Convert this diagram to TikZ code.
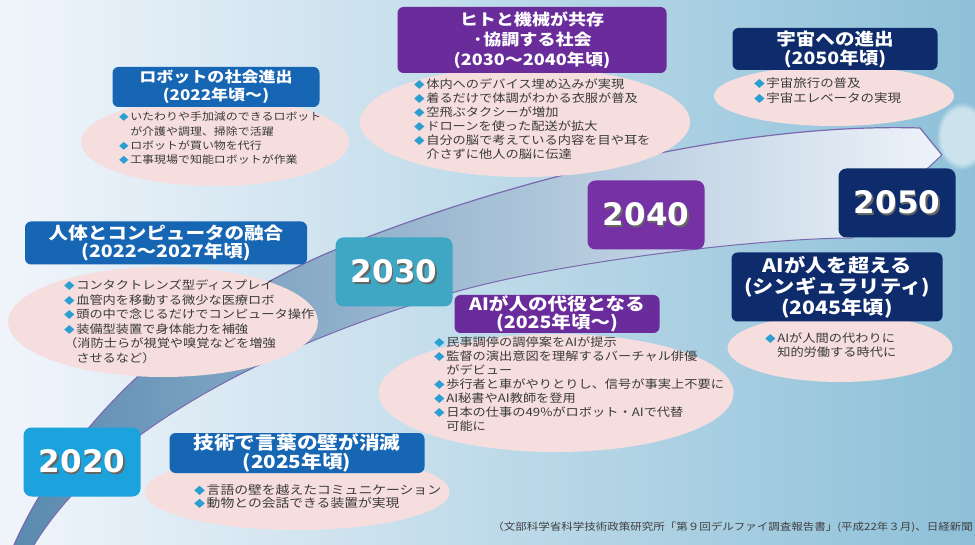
\documentclass[tikz,border=0pt]{standalone}
\usepackage{fontspec}
\usepackage{graphicx}
\usetikzlibrary{shapes.geometric, fadings}

\newfontfamily\jpfont{Noto Sans CJK JP}[FakeStretch=1.15]
\newfontfamily\yearfont{DejaVu Sans}

\definecolor{boxblue}{HTML}{1766B4}
\definecolor{boxpurple}{HTML}{6A2C9B}
\definecolor{boxnavy}{HTML}{0E2B6C}
\definecolor{yearcyan}{HTML}{1CA3DE}
\definecolor{yearteal}{HTML}{3FA6C3}
\definecolor{yearpurple}{HTML}{7631A5}
\definecolor{bubblepink}{HTML}{F6DEDF}
\definecolor{bulletblue}{HTML}{2C9FD2}
\definecolor{bodygray}{HTML}{3A3A3A}
\definecolor{bgleft}{HTML}{F1F5FB}
\definecolor{bgright}{HTML}{8DC0D8}
\definecolor{ribbondark}{HTML}{5A8AB0}
\definecolor{ribbonmid}{HTML}{BACDE4}
\definecolor{ribbonlight}{HTML}{EEF3FA}
\definecolor{ribbonedge}{HTML}{7A69AE}

\newcommand{\bul}{{\color{bulletblue}\scalebox{0.8}{◆}}\hspace{1.5pt}}
\newcommand{\cont}{\hphantom{\bul}}
\newcommand{\yearlabel}[1]{{\color{black!60}\rlap{\hspace{1.5pt}\raisebox{-1.5pt}{#1}}}#1}

\tikzset{
  titlebox/.style={fill=#1, rounded corners=6pt, text=white, align=center, inner sep=0pt},
  yearbox/.style={fill=#1, rounded corners=8pt, minimum width=117pt, minimum height=69pt,
    text=white, inner sep=0pt, font={\yearfont\bfseries\fontsize{31}{31}\selectfont}},
  bubble/.style={ellipse, fill=bubblepink, inner sep=0pt},
  bodytext/.style={anchor=north west, align=left, text=bodygray, inner sep=0pt},
}

\begin{document}
\begin{tikzpicture}[x=1pt, y=-1pt]
\useasboundingbox (0,0) rectangle (975,545);
% background and ribbon
\shade[left color=bgleft, right color=bgright] (0,0) rectangle (975,545);
\shade[left color=ribbondark, middle color=ribbonmid, right color=ribbonlight]
  (14,545) .. controls (60,440) and (170,320) .. (330,252) .. controls (480,190) and (720,122) .. (920,128)
  -- (942,155) -- (852,238) .. controls (760,238) and (560,262) .. (455,292)
  .. controls (300,335) and (110,420) .. (34,545) -- cycle;
\fill[white, opacity=0.55, path fading=circle with fuzzy edge 20 percent] (962,136) ellipse [x radius=26, y radius=34];
\draw[ribbonedge, line width=1.2pt]
  (14,545) .. controls (60,440) and (170,320) .. (330,252) .. controls (480,190) and (720,122) .. (920,128) -- (942,155);
\draw[ribbonedge, line width=1pt]
  (942,155) -- (852,238) .. controls (760,238) and (560,262) .. (455,292)
  .. controls (300,335) and (110,420) .. (34,545);

% ロボットの社会進出
\node[bubble, minimum width=268pt, minimum height=88pt] (robotbubble) at (215,142) {};
\node[titlebox=boxblue, minimum width=207pt, minimum height=40pt,
  font={\jpfont\bfseries\fontsize{14.8}{18}\selectfont}] (robottitle) at (216,87)
  {ロボットの社会進出\\(2022年頃～)};
\node[bodytext, font={\jpfont\fontsize{10.4}{14.3}\selectfont}] (robotlist) at (119,112)
  {\bul いたわりや手加減のできるロボット\\\cont が介護や調理、掃除で活躍\\\bul ロボットが買い物を代行\\\bul 工事現場で知能ロボットが作業};

% ヒトと機械が共存・協調する社会
\node[bubble, minimum width=330pt, minimum height=110pt] (humanbubble) at (525,122) {};
\node[titlebox=boxpurple, minimum width=269pt, minimum height=66pt,
  font={\jpfont\bfseries\fontsize{15.7}{20}\selectfont}] (humantitle) at (532,40)
  {ヒトと機械が共存\\·協調する社会\\(2030～2040年頃)};
\node[bodytext, font={\jpfont\fontsize{11.5}{14}\selectfont}] (humanlist) at (414,79)
  {\bul 体内へのデバイス埋め込みが実現\\\bul 着るだけで体調がわかる衣服が普及\\\bul 空飛ぶタクシーが増加\\\bul ドローンを使った配送が拡大\\\bul 自分の脳で考えている内容を目や耳を\\\cont 介さずに他人の脳に伝達};

% 宇宙への進出
\node[bubble, minimum width=240pt, minimum height=60pt] (spacebubble) at (834,96) {};
\node[titlebox=boxnavy, minimum width=205pt, minimum height=42pt,
  font={\jpfont\bfseries\fontsize{17}{19}\selectfont}] (spacetitle) at (835,49)
  {宇宙への進出\\(2050年頃)};
\node[bodytext, font={\jpfont\fontsize{11.7}{15}\selectfont}] (spacelist) at (754,77)
  {\bul 宇宙旅行の普及\\\bul 宇宙エレベータの実現};

% 人体とコンピュータの融合
\node[bubble, minimum width=310pt, minimum height=110pt] (bodybubble) at (163,322) {};
\node[titlebox=boxblue, minimum width=282pt, minimum height=43pt,
  font={\jpfont\bfseries\fontsize{17}{18.5}\selectfont}] (bodytitle) at (166,243)
  {人体とコンピュータの融合\\(2022～2027年頃)};
\node[bodytext, font={\jpfont\fontsize{11.5}{14.5}\selectfont}] (bodylist) at (64,280)
  {\bul コンタクトレンズ型ディスプレイ\\\bul 血管内を移動する微少な医療ロボ\\\bul 頭の中で念じるだけでコンピュータ操作\\\bul 装備型装置で身体能力を補強\\（消防士らが視覚や嗅覚などを増強\\\cont させるなど）};

% AIが人の代役となる
\node[bubble, minimum width=355pt, minimum height=118pt] (aibubble) at (556,393) {};
\node[titlebox=boxpurple, minimum width=205pt, minimum height=38pt,
  font={\jpfont\bfseries\fontsize{17}{18}\selectfont}] (aititle) at (557,314)
  {AIが人の代役となる\\(2025年頃～)};
\node[bodytext, font={\jpfont\fontsize{11.5}{14}\selectfont}] (ailist) at (434,337)
  {\bul 民事調停の調停案をAIが提示\\\bul 監督の演出意図を理解するバーチャル俳優\\\cont がデビュー\\\bul 歩行者と車がやりとりし、信号が事実上不要に\\\bul AI秘書やAI教師を登用\\\bul 日本の仕事の49\%がロボット・AIで代替\\\cont 可能に};

% AIが人を超える
\node[bubble, minimum width=225pt, minimum height=68pt] (singbubble) at (840,348) {};
\node[titlebox=boxnavy, minimum width=211pt, minimum height=69pt,
  font={\jpfont\bfseries\fontsize{18.5}{21}\selectfont}] (singtitle) at (837,287)
  {AIが人を超える\\(シンギュラリティ)\\(2045年頃)};
\node[bodytext, font={\jpfont\fontsize{11.5}{14}\selectfont}] (singlist) at (765,333)
  {\bul AIが人間の代わりに\\\cont 知的労働する時代に};

% 技術で言葉の壁が消滅
\node[bubble, minimum width=305pt, minimum height=76pt] (langbubble) at (297,492) {};
\node[titlebox=boxblue, minimum width=255pt, minimum height=40pt,
  font={\jpfont\bfseries\fontsize{18}{19}\selectfont}] (langtitle) at (297,453)
  {技術で言葉の壁が消滅\\(2025年頃)};
\node[bodytext, font={\jpfont\fontsize{12}{13}\selectfont}] (langlist) at (194,484)
  {\bul 言語の壁を越えたコミュニケーション\\\bul 動物との会話できる装置が実現};

% years
\foreach \yr/\col/\cx/\cy in {2020/yearcyan/82/462, 2030/yearteal/394/272,
    2040/yearpurple/646/215, 2050/boxnavy/897/203}
  \node[yearbox=\col] (year\yr) at (\cx,\cy) {\yearlabel{\yr}};

% source
\node[anchor=east, text=black!75, inner sep=0pt, font={\jpfont\fontsize{10}{12}\selectfont}] (source) at (973,527)
  {（文部科学省科学技術政策研究所「第９回デルファイ調査報告書」(平成22年３月)、日経新聞};
\end{tikzpicture}
\end{document}
